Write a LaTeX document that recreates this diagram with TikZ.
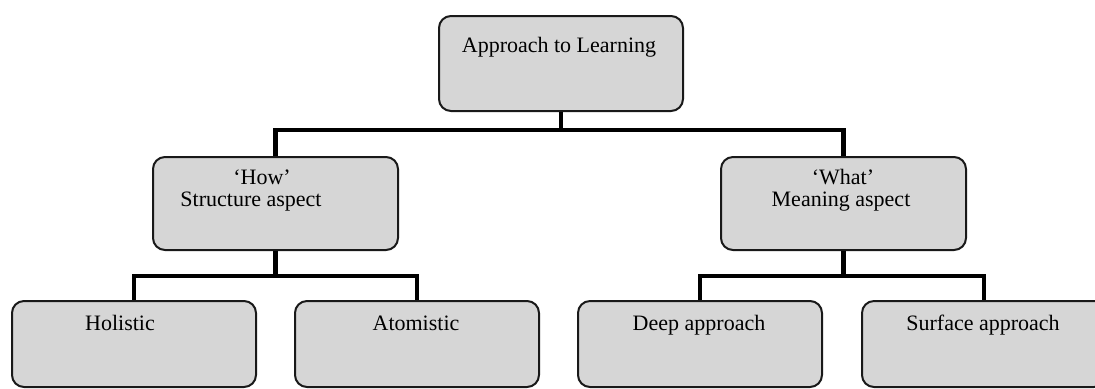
\documentclass[tikz,border=0pt]{standalone}
\usepackage{fontspec}
\setmainfont{Liberation Serif}
\definecolor{boxfill}{RGB}{214,214,214}

\begin{document}
\begin{tikzpicture}[x=0.5pt,y=-0.5pt,
    box/.style={draw=black!90, line width=1pt, rounded corners=6pt, fill=boxfill, anchor=north west, inner sep=0pt},
    txt/.style={anchor=base, inner sep=0pt, font=\fontsize{11}{13}\selectfont},
    link/.style={line width=2.4pt}]
    % --- Page (one unit = one pixel of the reference) ---
    \useasboundingbox (0,0) rectangle (1095,388);

    % --- Boxes ---
    \node[box, minimum width=122pt, minimum height=47.5pt] (root) at (438,15) {};     % Top
    \node[box, minimum width=122.5pt, minimum height=46.5pt] (how) at (152,156) {};   % Middle left
    \node[box, minimum width=122.5pt, minimum height=46.5pt] (what) at (720,156) {};  % Middle right
    \node[box, minimum width=122pt, minimum height=43pt] (holistic) at (11,300) {};
    \node[box, minimum width=122pt, minimum height=43pt] (atomistic) at (294,300) {};
    \node[box, minimum width=122pt, minimum height=43pt] (deep) at (577,300) {};
    \node[box, minimum width=122pt, minimum height=43pt] (surface) at (861,300) {};

    % --- Connectors ---
    \draw[link] (root.south) -- ++(0,18) coordinate (topbar) -| (how.north);
    \draw[link] (topbar) -| (what.north);
    \draw[link] (how.south) -- ++(0,25) coordinate (howbar) -| (holistic.north);
    \draw[link] (howbar) -| (atomistic.north);
    \draw[link] (what.south) -- ++(0,25) coordinate (whatbar) -| (deep.north);
    \draw[link] (whatbar) -| (surface.north);

    % --- Labels ---
    \node[txt] (rootlbl) at (559,52) {Approach to Learning};
    \node[txt] (howq) at (262,184) {‘How’};
    \node[txt] (hows) at (251,206) {Structure aspect};
    \node[txt] (whatq) at (843,184) {‘What’};
    \node[txt] (whats) at (841,206) {Meaning aspect};
    \node[txt] (holisticlbl) at (120,330) {Holistic};
    \node[txt] (atomisticlbl) at (416,330) {Atomistic};
    \node[txt] (deeplbl) at (699,330) {Deep approach};
    \node[txt] (surfacelbl) at (983,330) {Surface approach};

\end{tikzpicture}
\end{document}
